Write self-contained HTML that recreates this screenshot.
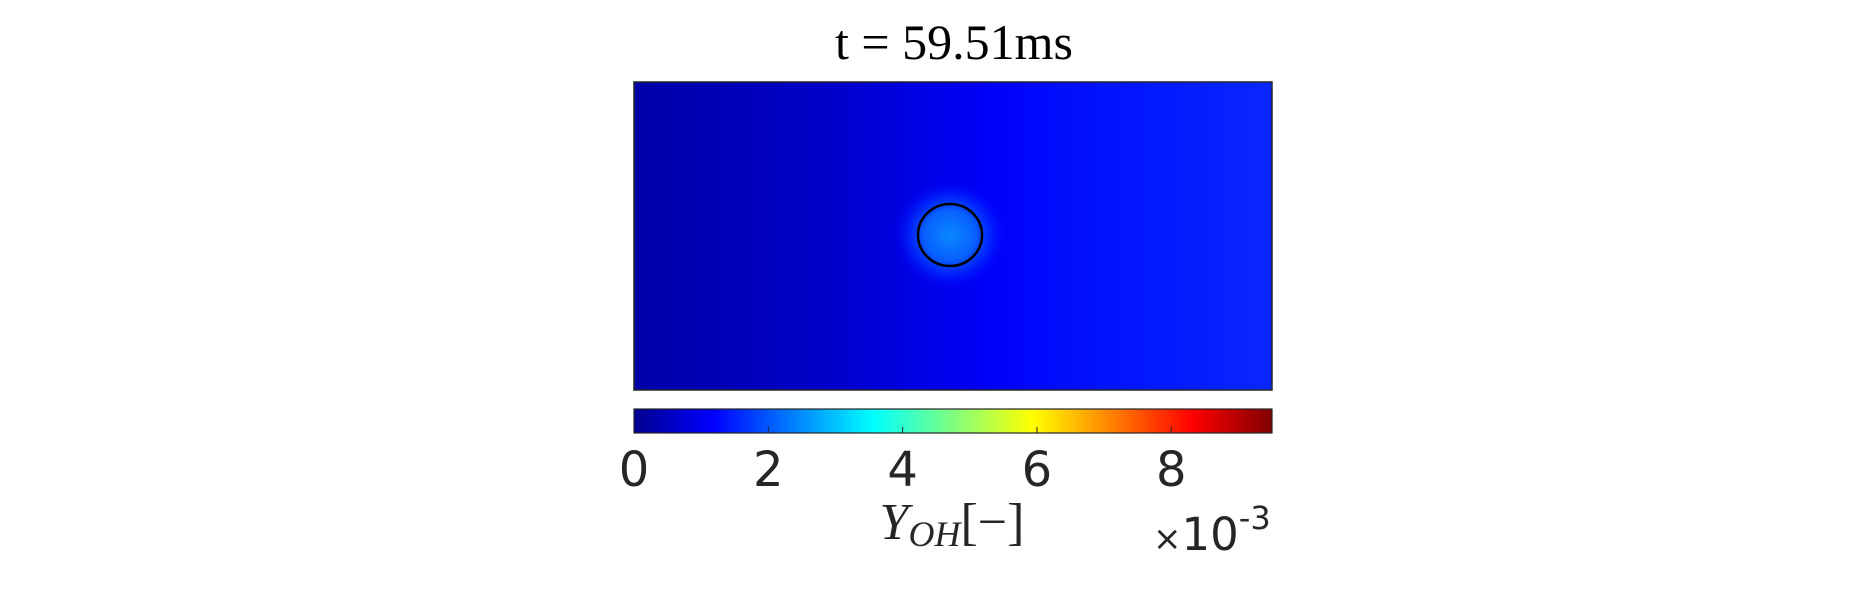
<!DOCTYPE html>
<html><head><meta charset="utf-8"><style>
html,body{margin:0;padding:0;background:#fff;}
svg{display:block;}
</style></head><body>
<svg width="1875" height="594" viewBox="0 0 1875 594">
<defs>
<linearGradient id="field" x1="0" y1="0" x2="1" y2="0">
<stop offset="0" stop-color="#0000a8"/>
<stop offset="0.3" stop-color="#0000c8"/>
<stop offset="0.55" stop-color="#0000f8"/>
<stop offset="0.75" stop-color="#0014ff"/>
<stop offset="1" stop-color="#0a26ff"/>
</linearGradient>
<radialGradient id="glow" cx="0.5" cy="0.5" r="0.5">
<stop offset="0" stop-color="#0a88ff"/>
<stop offset="0.45" stop-color="#0860ff"/>
<stop offset="0.7" stop-color="#0030ff" stop-opacity="0.7"/>
<stop offset="1" stop-color="#0000ff" stop-opacity="0"/>
</radialGradient>
<linearGradient id="jet" x1="0" y1="0" x2="1" y2="0">
<stop offset="0" stop-color="#00008f"/>
<stop offset="0.125" stop-color="#0000ff"/>
<stop offset="0.375" stop-color="#00ffff"/>
<stop offset="0.625" stop-color="#ffff00"/>
<stop offset="0.875" stop-color="#ff0000"/>
<stop offset="1" stop-color="#800000"/>
</linearGradient>
</defs>
<text x="954" y="59" text-anchor="middle" font-family="'Liberation Serif',serif" font-size="50" fill="#000">t = 59.51ms</text>
<rect x="634" y="82" width="638" height="308" fill="url(#field)"/>
<ellipse cx="950" cy="235" rx="58" ry="56" fill="url(#glow)"/>
<rect x="634" y="82" width="638" height="308" fill="none" stroke="#262626" stroke-width="1.5"/>
<ellipse cx="950" cy="235" rx="32" ry="31" fill="none" stroke="#000" stroke-width="2.5"/>
<rect x="634" y="409" width="638" height="24" fill="url(#jet)" stroke="#262626" stroke-width="1.2"/>
<g id="ticks"></g>
<text x="952" y="539" text-anchor="middle" font-family="'Liberation Serif',serif" font-style="italic" font-size="52" fill="#262626">Y<tspan font-size="36" dy="7">OH</tspan><tspan font-style="normal" dy="-7">[−]</tspan></text>
<text x="1153" y="550" font-family="'DejaVu Sans',sans-serif" font-size="45" fill="#262626"><tspan font-size="34">×</tspan>10<tspan font-size="32" dy="-21">-3</tspan></text>
</svg>
<script>
const tickValues = [0, 2, 4, 6, 8];
const tickLabels = ["0", "2", "4", "6", "8"];
const cMin = 0, cMax = 9.5;
const x0 = 634, x1 = 1272;
function sx(v){ return x0 + (v - cMin) / (cMax - cMin) * (x1 - x0); }
const g = document.getElementById('ticks');
const NS = 'http://www.w3.org/2000/svg';
tickValues.forEach((v, i) => {
  const x = sx(v);
  if (v > cMin) {
    const l = document.createElementNS(NS, 'line');
    l.setAttribute('x1', x); l.setAttribute('x2', x);
    l.setAttribute('y1', 427); l.setAttribute('y2', 433);
    l.setAttribute('stroke', '#262626'); l.setAttribute('stroke-width', '1');
    
    
    g.appendChild(l);
  }
  const t = document.createElementNS(NS, 'text');
  t.setAttribute('x', x); t.setAttribute('y', 486);
  t.setAttribute('text-anchor', 'middle');
  t.setAttribute('font-family', "'DejaVu Sans',sans-serif");
  t.setAttribute('font-size', '48');
  t.setAttribute('fill', '#262626');
  t.textContent = tickLabels[i];
  
  
  g.appendChild(t);
});
</script>
</body></html>
